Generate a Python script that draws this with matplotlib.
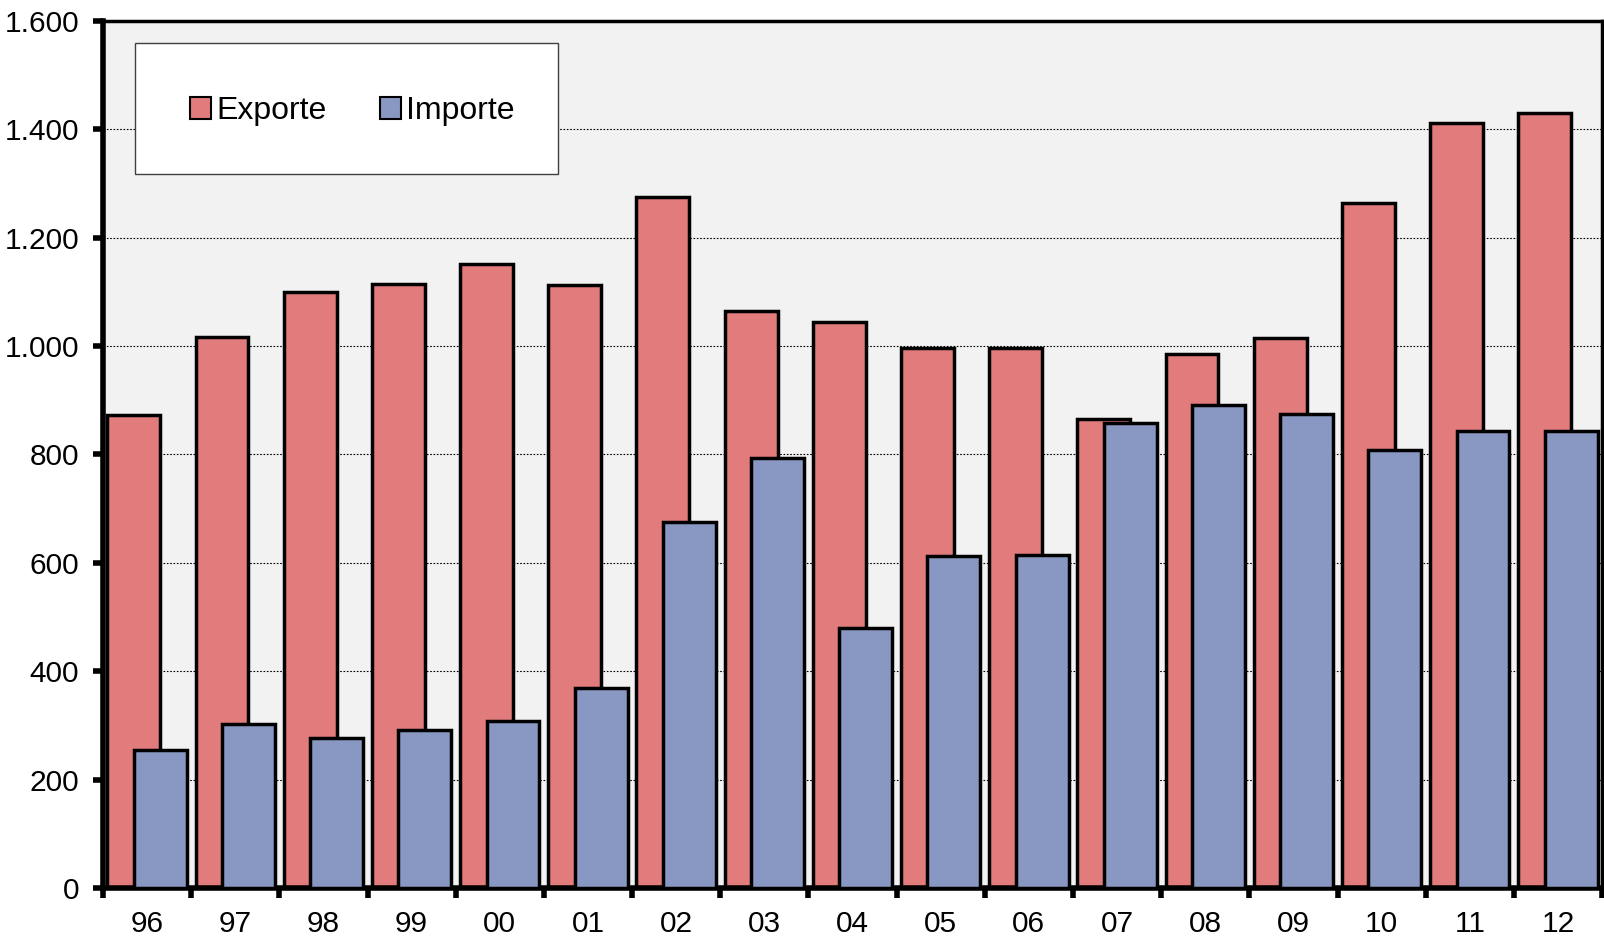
import numpy as np
import matplotlib
matplotlib.use("Agg")
import matplotlib.pyplot as plt
from matplotlib.patches import Rectangle
from matplotlib.ticker import FuncFormatter

# data
years = ["96", "97", "98", "99", "00", "01", "02", "03", "04", "05", "06",
         "07", "08", "09", "10", "11", "12"]
exporte = [872, 1017, 1100, 1115, 1151, 1113, 1275, 1064, 1045, 996, 996,
           866, 985, 1015, 1264, 1411, 1430]
importe = [255, 302, 277, 291, 309, 370, 675, 794, 479, 613, 615,
           858, 891, 875, 808, 843, 843]

red = "#E27B7B"
blue = "#8998C2"

plt.rcParams["font.family"] = ["Liberation Sans", "DejaVu Sans"]

fig = plt.figure(figsize=(16.04, 9.44), dpi=100)
ax = fig.add_axes([0.0642, 0.0593, 0.9346, 0.9185])
ax.set_facecolor("#F2F2F2")

x = np.arange(len(years))
w = 0.6
ax.bar(x - 0.15, exporte, w, color=red, edgecolor="black", linewidth=2.5,
       label="Exporte", zorder=2)
ax.bar(x + 0.15, importe, w, color=blue, edgecolor="black", linewidth=2.5,
       label="Importe", zorder=3)

ax.set_xlim(-0.5, len(years) - 0.5)
ax.set_ylim(0, 1600)
ax.set_yticks(np.arange(0, 1601, 200))
ax.yaxis.set_major_formatter(FuncFormatter(lambda v, p: f"{int(v):,}".replace(",", ".")))
ax.yaxis.grid(True, color="black", linestyle=(0, (1.5, 1.5)), linewidth=0.8, zorder=1)
ax.set_axisbelow(True)

# ticks between groups, labels centred under groups
ax.set_xticks(np.arange(-0.5, len(years), 1.0))
ax.set_xticklabels([])
ax.set_xticks(x, minor=True)
ax.set_xticklabels(years, minor=True)
ax.tick_params(axis="x", which="major", direction="out", length=7, width=4)
ax.tick_params(axis="x", which="minor", length=0, pad=16, labelsize=21.5)
ax.tick_params(axis="y", direction="out", length=7, width=4, labelsize=21.5, pad=10)

for s in ["left", "bottom"]:
    ax.spines[s].set_linewidth(4)
for s in ["top", "right"]:
    ax.spines[s].set_linewidth(2.5)

# legend box
box = (0.0213, 0.8235, 0.2822, 0.1511)
ax.add_patch(Rectangle(box[:2], box[2], box[3], transform=ax.transAxes,
                       facecolor="white", edgecolor="#404040", linewidth=1, zorder=5))
leg = ax.legend(loc="center", bbox_to_anchor=(box[0] + 0.004, box[1] - 0.003, box[2], box[3]),
                frameon=False, ncol=2,
                fontsize=23, handlelength=0.65, handleheight=0.65, handletextpad=0.15,
                columnspacing=1.7)
leg.set_zorder(6)
for h in leg.legend_handles:
    h.set_linewidth(1.5)

fig.savefig("out.png", dpi=100)
